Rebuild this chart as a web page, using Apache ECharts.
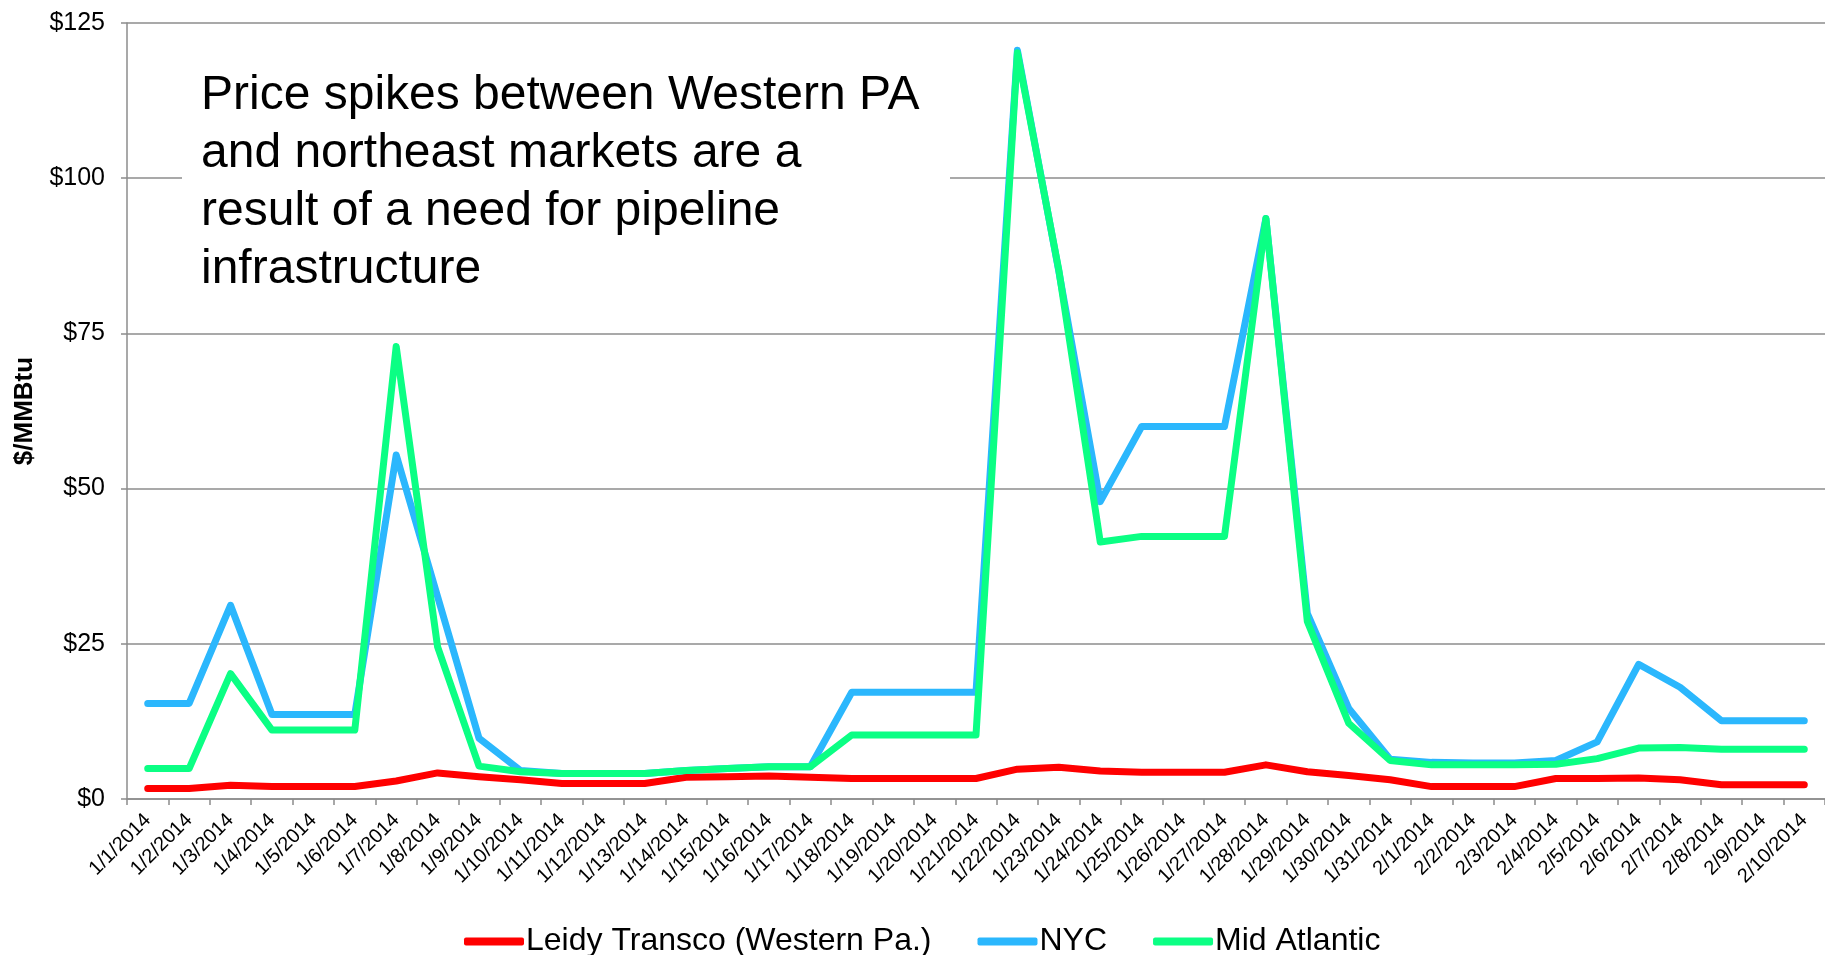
<!DOCTYPE html>
<html>
<head>
<meta charset="utf-8">
<title>Natural gas spot prices, Jan–Feb 2014</title>
<script src="https://cdn.jsdelivr.net/npm/echarts@6/dist/echarts.min.js"></script>
<style>
  html, body { margin: 0; padding: 0; background: #fff; }
  #chart { width: 1825px; height: 955px; }
</style>
</head>
<body>
<div id="chart"></div>
<script>
// Trading days shown on the category axis
const dates = [
  '1/1/2014', '1/2/2014', '1/3/2014', '1/4/2014', '1/5/2014', '1/6/2014', '1/7/2014',
  '1/8/2014', '1/9/2014', '1/10/2014', '1/11/2014', '1/12/2014', '1/13/2014', '1/14/2014',
  '1/15/2014', '1/16/2014', '1/17/2014', '1/18/2014', '1/19/2014', '1/20/2014', '1/21/2014',
  '1/22/2014', '1/23/2014', '1/24/2014', '1/25/2014', '1/26/2014', '1/27/2014', '1/28/2014',
  '1/29/2014', '1/30/2014', '1/31/2014', '2/1/2014', '2/2/2014', '2/3/2014', '2/4/2014',
  '2/5/2014', '2/6/2014', '2/7/2014', '2/8/2014', '2/9/2014', '2/10/2014'
];

// Daily prices, $/MMBtu
const leidyTransco = [
  1.7, 1.7, 2.2, 2.0, 2.0, 2.0, 2.9, 4.2, 3.6, 3.1, 2.5, 2.5, 2.5, 3.5,
  3.6, 3.7, 3.5, 3.3, 3.3, 3.3, 3.3, 4.8, 5.1, 4.5, 4.3, 4.3, 4.3, 5.5,
  4.4, 3.8, 3.1, 2.0, 2.0, 2.0, 3.3, 3.3, 3.4, 3.1, 2.3, 2.3, 2.3
];
const nyc = [
  15.4, 15.4, 31.2, 13.6, 13.6, 13.6, 55.4, 32.6, 9.8, 4.6, 4.1, 4.1, 4.1, 4.6,
  4.9, 5.2, 5.2, 17.2, 17.2, 17.2, 17.2, 120.6, 85.0, 47.9, 60.0, 60.0, 60.0, 93.5,
  29.9, 14.6, 6.4, 5.9, 5.8, 5.8, 6.2, 9.2, 21.7, 18.0, 12.6, 12.6, 12.6
];
const midAtlantic = [
  4.9, 4.9, 20.2, 11.1, 11.1, 11.1, 72.9, 24.5, 5.3, 4.4, 4.1, 4.1, 4.1, 4.6,
  4.9, 5.2, 5.2, 10.3, 10.3, 10.3, 10.3, 120.2, 85.2, 41.4, 42.3, 42.3, 42.3, 93.5,
  28.6, 12.2, 6.2, 5.5, 5.5, 5.5, 5.6, 6.5, 8.2, 8.3, 8.0, 8.0, 8.0
];

const seriesNames = ['Leidy Transco (Western Pa.)', 'NYC', 'Mid Atlantic'];
const seriesColors = ['#ff0000', '#2bb7fd', '#0bff84'];

const yTicks = { min: 0, max: 125, interval: 25 };

const noteText = [
  'Price spikes between Western PA',
  'and northeast markets are a',
  'result of a need for pipeline',
  'infrastructure'
].join('\n');

const FONT = '"Liberation Sans", Arial, Helvetica, sans-serif';
const GRID_GREY = '#8c8c8c';

const chart = echarts.init(document.getElementById('chart'), null, { renderer: 'canvas' });

const lineSeries = [leidyTransco, nyc, midAtlantic].map((values, i) => ({
  name: seriesNames[i],
  type: 'line',
  data: values,
  showSymbol: false,
  symbol: 'none',
  smooth: false,
  z: 2 + i,
  color: seriesColors[i],
  lineStyle: { width: 7, color: seriesColors[i], cap: 'round', join: 'round' },
  emphasis: { disabled: true }
}));

chart.setOption({
  animation: false,
  backgroundColor: '#ffffff',
  textStyle: { fontFamily: FONT },
  grid: { left: 127, right: -8, top: 23, bottom: 156, containLabel: false },
  legend: {
    data: seriesNames,
    left: 464,
    top: 925,
    padding: 0,
    icon: 'roundRect',
    itemWidth: 60,
    itemHeight: 8,
    itemGap: 46,
    textStyle: { fontFamily: FONT, fontSize: 32, color: '#000', lineHeight: 33, padding: [0, 0, 0, -3] }
  },
  xAxis: {
    type: 'category',
    data: dates,
    boundaryGap: true,
    axisLine: { lineStyle: { color: GRID_GREY, width: 1.5 } },
    axisTick: { show: true, length: 6, interval: 0, lineStyle: { color: GRID_GREY, width: 1.5 } },
    axisLabel: {
      interval: 0,
      rotate: 45,
      margin: 18,
      fontFamily: FONT,
      fontSize: 20,
      color: '#000'
    },
    splitLine: { show: false }
  },
  yAxis: {
    type: 'value',
    min: yTicks.min,
    max: yTicks.max,
    interval: yTicks.interval,
    name: '$/MMBtu',
    nameLocation: 'middle',
    nameRotate: 90,
    nameGap: 89,
    nameTextStyle: { fontFamily: FONT, fontSize: 26, fontWeight: 'bold', color: '#000' },
    axisLine: { show: true, lineStyle: { color: GRID_GREY, width: 1.5 } },
    axisTick: { show: true, length: 6, lineStyle: { color: GRID_GREY, width: 1.5 } },
    axisLabel: {
      margin: 22,
      fontFamily: FONT,
      fontSize: 25,
      color: '#000',
      formatter: v => '$' + v
    },
    splitLine: { show: true, lineStyle: { color: GRID_GREY, width: 1.5 } }
  },
  graphic: [
    {
      type: 'rect',
      z: 1,
      silent: true,
      shape: { x: 182, y: 50, width: 768, height: 270 },
      style: { fill: '#ffffff' }
    },
    {
      type: 'text',
      z: 1,
      silent: true,
      x: 201,
      y: 67,
      style: {
        text: noteText,
        fontFamily: FONT,
        fontSize: 48,
        lineHeight: 58,
        fill: '#000',
        verticalAlign: 'top',
        align: 'left'
      }
    }
  ],
  series: lineSeries
});
</script>
</body>
</html>
